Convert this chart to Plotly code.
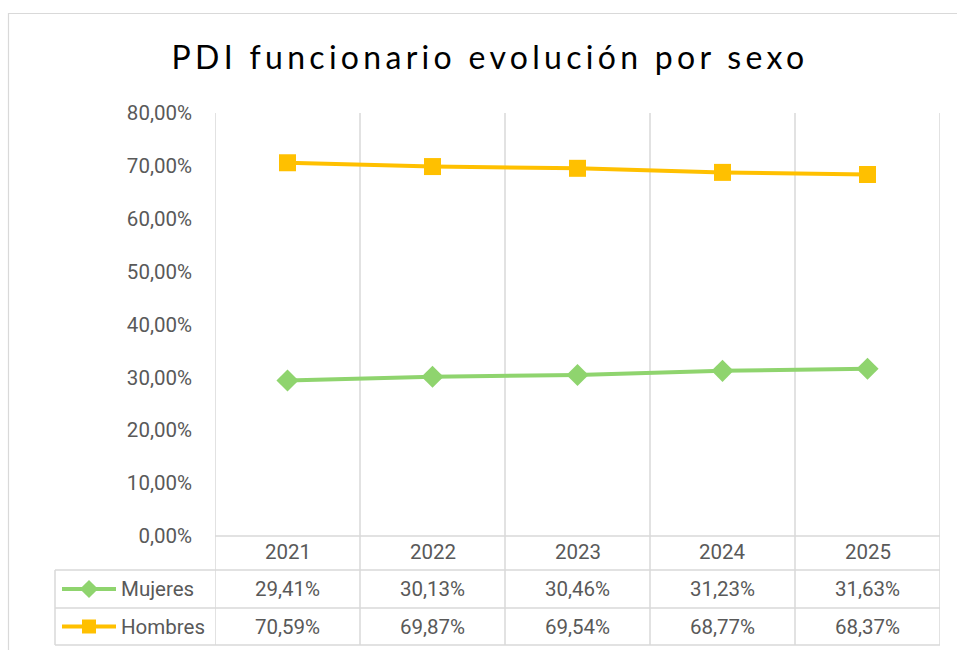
import plotly.graph_objects as go

# ---- data ----
years = ["2021", "2022", "2023", "2024", "2025"]
mujeres = [29.41, 30.13, 30.46, 31.23, 31.63]
hombres = [70.59, 69.87, 69.54, 68.77, 68.37]
series_names = ["Mujeres", "Hombres"]
title_text = "PDI funcionario evolución por sexo"
y_ticks = [0, 0.1, 0.2, 0.3, 0.4, 0.5, 0.6, 0.7, 0.8]

W, H = 957, 650
FONT = "Roboto, Arial"
TITLE_FONT = "Lato, Open Sans, Arial"
GREEN = "#8fd46e"
GOLD = "#ffc000"
GRID = "#d9d9d9"
TXT = "#595959"
FS = 20.5

def px(x):
    return x / W

def py(y):
    return 1 - y / H

# layout geometry (pixels)
PL, PR, PT, PB = 215, 940, 113, 536
ROWS = [536, 570, 608, 645]
TABLE_LEFT = 55

fig = go.Figure()

colors = [GREEN, GOLD]
symbols = ["diamond", "square"]
msizes = [17, 17]
data = [mujeres, hombres]
for name, vals, c, s, ms in zip(series_names, data, colors, symbols, msizes):
    fig.add_trace(go.Scatter(
        x=years, y=[v / 100 for v in vals], mode="lines+markers", name=name,
        line=dict(color=c, width=4), marker=dict(symbol=s, size=ms, color=c),
        showlegend=False, hoverinfo="skip", xaxis="x", yaxis="y"))

# legend keys inside the table (overlay axis in pixel units)
for i, (name, c, s, ms) in enumerate(zip(series_names, colors, symbols, msizes)):
    yc = (ROWS[i + 1] + ROWS[i + 2]) / 2
    fig.add_trace(go.Scatter(x=[62, 116], y=[yc, yc], mode="lines",
                             line=dict(color=c, width=4), showlegend=False,
                             hoverinfo="skip", xaxis="x2", yaxis="y2"))
    fig.add_trace(go.Scatter(x=[89], y=[yc], mode="markers",
                             marker=dict(symbol=s, size=14, color=c), showlegend=False,
                             hoverinfo="skip", xaxis="x2", yaxis="y2"))

shapes = []
# outer chart border
shapes.append(dict(type="rect", xref="paper", yref="paper", x0=px(8.5), x1=px(960),
                   y0=py(660), y1=py(13.5), line=dict(color=GRID, width=1.2)))
# vertical grid / table lines at category boundaries
for k in range(len(years) + 1):
    shapes.append(dict(type="line", xref="x", yref="paper", x0=k - 0.5, x1=k - 0.5,
                       y0=py(ROWS[-1]), y1=py(PT), line=dict(color=GRID, width=1.5),
                       layer="below"))
# horizontal table lines
shapes.append(dict(type="line", xref="paper", yref="paper", x0=px(PL), x1=px(PR),
                   y0=py(ROWS[0]), y1=py(ROWS[0]), line=dict(color=GRID, width=1.5)))
for r in ROWS[1:]:
    shapes.append(dict(type="line", xref="paper", yref="paper", x0=px(TABLE_LEFT), x1=px(PR),
                       y0=py(r), y1=py(r), line=dict(color=GRID, width=1.5)))
shapes.append(dict(type="line", xref="paper", yref="paper", x0=px(TABLE_LEFT), x1=px(TABLE_LEFT),
                   y0=py(ROWS[1]), y1=py(ROWS[-1]), line=dict(color=GRID, width=1.5)))

annotations = []
# year header row
for k, yr in enumerate(years):
    annotations.append(dict(x=k, xref="x", y=py((ROWS[0] + ROWS[1]) / 2 - 1), yref="paper",
                            text=yr, showarrow=False, xanchor="center", yanchor="middle",
                            font=dict(family=FONT, size=FS, color=TXT)))
# value rows
for i, (name, vals) in enumerate(zip(series_names, data)):
    yc = (ROWS[i + 1] + ROWS[i + 2]) / 2
    annotations.append(dict(x=px(119), xref="paper", y=py(yc), yref="paper", text=name,
                            showarrow=False, xanchor="left", yanchor="middle",
                            font=dict(family=FONT, size=FS, color=TXT)))
    for k, v in enumerate(vals):
        annotations.append(dict(x=k, xref="x", y=py(yc), yref="paper",
                                text=f"{v:.2f}%".replace(".", ","), showarrow=False,
                                xanchor="center", yanchor="middle",
                                font=dict(family=FONT, size=FS, color=TXT)))

fig.update_layout(
    width=W, height=H, margin=dict(l=0, r=0, t=0, b=0, autoexpand=False),
    paper_bgcolor="white", plot_bgcolor="rgba(0,0,0,0)",
    separators=",.",
    title=dict(text=f'<span style="letter-spacing:4.3px">{title_text}</span>',
               x=px(490), xanchor="center", y=py(58), yanchor="middle",
               font=dict(family=TITLE_FONT, size=32, color="#000000")),
    xaxis=dict(domain=[px(PL), px(PR)], type="category", range=[-0.5, 4.5],
               showgrid=False, showticklabels=False, zeroline=False, showline=False,
               fixedrange=True, automargin=False),
    yaxis=dict(domain=[py(PB), py(PT)], range=[0, 0.8], tickvals=y_ticks, tickformat=".2%",
               showgrid=False, zeroline=False, showline=False, ticks="",
               ticklabelstandoff=22, automargin=False,
               tickfont=dict(family=FONT, size=FS, color=TXT)),
    xaxis2=dict(domain=[0, 1], range=[0, W], visible=False, fixedrange=True, automargin=False),
    yaxis2=dict(domain=[0, 1], range=[H, 0], visible=False, fixedrange=True, automargin=False),
    shapes=shapes, annotations=annotations,
)

fig.write_html("out.html", config={"displayModeBar": False},
               post_script="document.body.style.margin='0';")
